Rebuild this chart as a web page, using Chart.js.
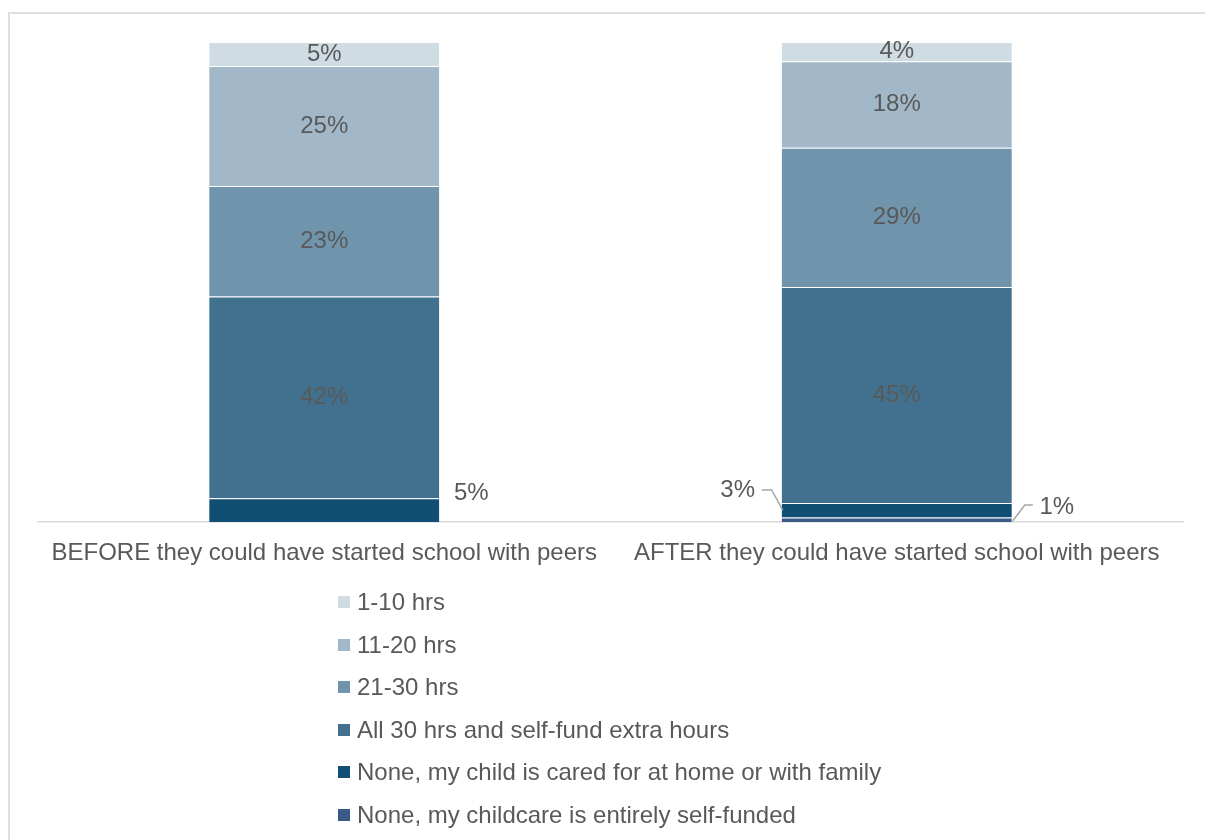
<!DOCTYPE html>
<html>
<head>
<meta charset="utf-8">
<script src="https://cdn.jsdelivr.net/npm/chart.js@4/dist/chart.umd.min.js"></script>
<style>
  body { margin: 0; background: #fff; font-family: "Liberation Sans", Arial, sans-serif; }
  .frame { position: absolute; left: 8px; top: 12px; width: 1300px; height: 900px; border: 2px solid #dedede; box-sizing: border-box; }
  .wrap { position: absolute; left: 0; top: 0; width: 1205px; height: 603px; }
  .legend { position: absolute; left: 338px; top: 588px; list-style: none; margin: 0; padding: 0; }
  .legend li { height: 42.6px; line-height: 28px; font-size: 24px; color: #595959; display: flex; align-items: flex-start; }
  .legend span.box { display: inline-block; width: 12px; height: 12px; margin: 8px 7px 0 0; }
</style>
</head>
<body>
<div class="frame"></div>
<div class="wrap"><canvas id="chart"></canvas></div>
<ul class="legend" id="legend"></ul>
<script>
const categories = ['BEFORE they could have started school with peers', 'AFTER they could have started school with peers'];

// stacked bottom to top
const seriesNames = [
  'None, my childcare is entirely self-funded',
  'None, my child is cared for at home or with family',
  'All 30 hrs and self-fund extra hours',
  '21-30 hrs',
  '11-20 hrs',
  '1-10 hrs'
];
const selfFunded = [0, 1];
const atHome = [5, 3];
const all30 = [42, 45];
const hrs21to30 = [23, 29];
const hrs11to20 = [25, 18];
const hrs1to10 = [5, 4];

const colors = ['#3b5a88', '#114e73', '#41718f', '#6f94ac', '#a2b8c8', '#d0dce4'];
const values = [selfFunded, atHome, all30, hrs21to30, hrs11to20, hrs1to10];

const textColor = '#595959';
const font = { family: '"Liberation Sans", Arial, sans-serif', size: 24 };

// labels that sit outside their segment: side, offsets, leader line
const outside = {
  '1-0': { side: 'right', dx: 32, y: -5, leader: false },
  '1-1': { side: 'left', dx: -44, y: 490, leader: true },
  '0-1': { side: 'right', dx: 45, y: 507, leader: true }
};

const barLabels = {
  id: 'barLabels',
  afterDatasetsDraw(chart) {
    const ctx = chart.ctx;
    ctx.save();
    ctx.font = font.size + 'px ' + font.family;
    ctx.fillStyle = textColor;
    ctx.textAlign = 'center';
    ctx.textBaseline = 'middle';
    chart.data.datasets.forEach((ds, di) => {
      chart.getDatasetMeta(di).data.forEach((bar, i) => {
        const v = ds.data[i];
        if (!v) return;
        const text = v + '%';
        const left = bar.x - bar.width / 2, right = bar.x + bar.width / 2;
        const o = outside[di + '-' + i];
        if (!o) {
          ctx.fillText(text, bar.x, (bar.y + bar.base) / 2);
          return;
        }
        const mid = (bar.y + bar.base) / 2;
        const ly = o.leader ? o.y : bar.y + o.y;
        const lx = o.side === 'right' ? right + o.dx : left + o.dx;
        ctx.fillText(text, lx, ly);
        if (o.leader) {
          ctx.strokeStyle = '#a6a6a6';
          ctx.lineWidth = 1.5;
          ctx.beginPath();
          if (o.side === 'left') {
            ctx.moveTo(left - 20, ly);
            ctx.lineTo(left - 10, ly);
            ctx.lineTo(left + 1, mid);
          } else {
            ctx.moveTo(right + 21, ly - 2);
            ctx.lineTo(right + 13, ly - 2);
            ctx.lineTo(right + 1, mid + 1);
          }
          ctx.stroke();
        }
      });
    });
    ctx.restore();
  }
};

const chart = new Chart(document.getElementById('chart'), {
  type: 'bar',
  data: {
    labels: categories,
    datasets: seriesNames.map((name, k) => ({
      label: name,
      data: values[k],
      backgroundColor: colors[k],
      borderColor: 'rgba(255,255,255,0.2)',
      borderWidth: { top: 1 },
      borderSkipped: false,
      categoryPercentage: 1,
      barPercentage: 0.402
    }))
  },
  options: {
    responsive: true,
    maintainAspectRatio: false,
    animation: false,
    layout: { padding: { left: 38, right: 22, top: 42, bottom: 18 } },
    plugins: { legend: { display: false }, tooltip: { enabled: false } },
    scales: {
      x: {
        stacked: true,
        grid: { display: false, drawTicks: false },
        border: { color: '#d9d9d9', width: 1.5 },
        ticks: { color: textColor, font: font, padding: 17, maxRotation: 0 }
      },
      y: { stacked: true, display: false, min: 0, max: 100 }
    }
  },
  plugins: [barLabels]
});

// legend, top item first
const legend = document.getElementById('legend');
chart.data.datasets.slice().reverse().forEach(ds => {
  const li = document.createElement('li');
  li.innerHTML = '<span class="box" style="background:' + ds.backgroundColor + '"></span>' + ds.label;
  legend.appendChild(li);
});
</script>
</body>
</html>
